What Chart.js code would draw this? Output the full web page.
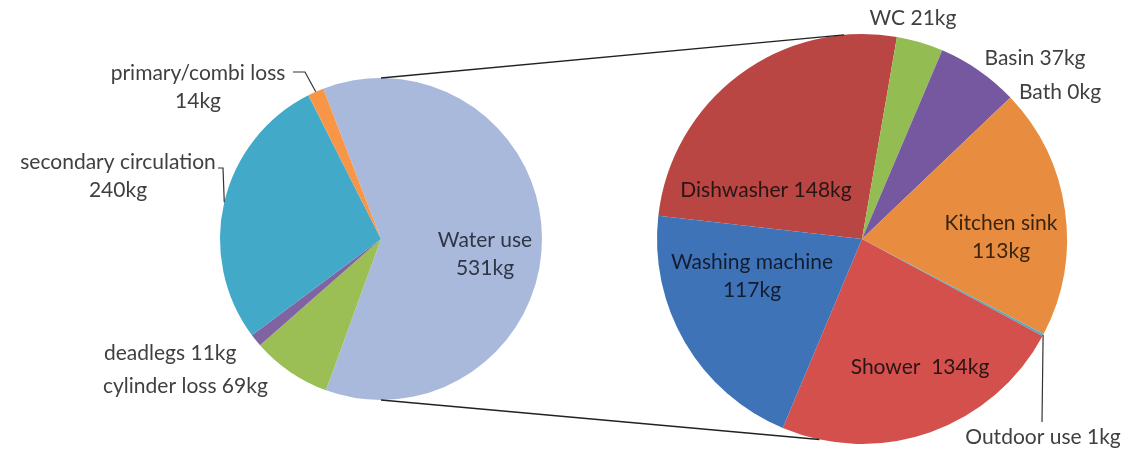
<!DOCTYPE html>
<html>
<head>
<meta charset="utf-8">
<script src="https://cdn.jsdelivr.net/npm/chart.js@4/dist/chart.umd.min.js"></script>
<style>
  html, body { margin: 0; padding: 0; background: #fff; }
  #wrap { position: relative; width: 1134px; height: 449px; }
  #wrap canvas { position: absolute; left: 0; top: 0; }
</style>
</head>
<body>
<div id="wrap">
  <canvas id="mainPie" width="1134" height="449"></canvas>
  <canvas id="usePie" width="1134" height="449"></canvas>
</div>
<script>
// Main pie - where the energy goes (kg)
const mainLabels = ['Water use', 'cylinder loss', 'deadlegs', 'secondary circulation', 'primary/combi loss'];
const mainValues = [531, 69, 11, 240, 14];
const mainColors = ['#A9B9DC', '#9BBF55', '#8064A2', '#42A9C8', '#F79646'];

// Second pie - water use split (kg)
const useLabels = ['Dishwasher', 'WC', 'Basin', 'Bath', 'Kitchen sink', 'Outdoor use', 'Shower', 'Washing machine'];
const useValues = [148, 21, 37, 0, 113, 1, 134, 117];
const useColors = ['#B94643', '#93BD52', '#7558A0', '#4BACC6', '#E88D3F', '#4BACC6', '#D4504C', '#3E73B8'];

const FONT = '21px Lato, "Liberation Sans", sans-serif';
const OUTSIDE = '#404040';
const LINE_H = 28;

// label placement relative to the pie centre
const mainLabelPos = {
    'Water use': { dx: 104, dy: 15, split: true, color: '#2e3545' },
    'cylinder loss': { dx: -278, dy: 147, align: 'left' },
    'deadlegs': { dx: -277, dy: 114, align: 'left' },
    'secondary circulation': { dx: -263, dy: -63, split: true, leader: [[-163, -71], [-158, -71]] },
    'primary/combi loss': { dx: -183, dy: -152, split: true, leader: [[-88, -167], [-76, -167]] }
};
const useLabelPos = {
    'Dishwasher': { dx: -96, dy: -49, color: '#2a1515' },
    'WC': { dx: 51, dy: -221 },
    'Basin': { dx: 173, dy: -181 },
    'Bath': { dx: 198, dy: -147 },
    'Kitchen sink': { dx: 139, dy: -2, split: true, color: '#3a2410' },
    'Outdoor use': { dx: 181, dy: 198, leader: [[180, 183]] },
    'Shower': { dx: 58, dy: 128, sep: '  ', color: '#2a1515' },
    'Washing machine': { dx: -110, dy: 37, split: true, color: '#141c30' }
};

function labelPlugin(id, layout) {
    return {
        id: id,
        afterDatasetsDraw(chart) {
            const ctx = chart.ctx;
            const meta = chart.getDatasetMeta(0);
            const labels = chart.data.labels;
            const values = chart.data.datasets[0].data;
            ctx.save();
            ctx.font = FONT;
            ctx.textBaseline = 'middle';
            meta.data.forEach(function(arc, i) {
                const cfg = layout[labels[i]];
                if (!cfg) return;
                const cx = arc.x, cy = arc.y;
                // leader line: from label to middle of the slice edge
                if (cfg.leader) {
                    const mid = (arc.startAngle + arc.endAngle) / 2;
                    ctx.strokeStyle = '#333';
                    ctx.lineWidth = 1.2;
                    ctx.beginPath();
                    cfg.leader.forEach(function(p, k) {
                        if (k === 0) ctx.moveTo(cx + p[0], cy + p[1]);
                        else ctx.lineTo(cx + p[0], cy + p[1]);
                    });
                    ctx.lineTo(cx + Math.cos(mid) * arc.outerRadius, cy + Math.sin(mid) * arc.outerRadius);
                    ctx.stroke();
                }
                const valueText = values[i] + 'kg';
                const lines = cfg.split ? [labels[i], valueText] : [labels[i] + (cfg.sep || ' ') + valueText];
                ctx.fillStyle = cfg.color || OUTSIDE;
                ctx.textAlign = cfg.align || 'center';
                const top = cy + cfg.dy - (lines.length - 1) * LINE_H / 2;
                lines.forEach(function(t, k) {
                    ctx.fillText(t, cx + cfg.dx, top + k * LINE_H);
                });
            });
            ctx.restore();
        }
    };
}

const mainChart = new Chart(document.getElementById('mainPie'), {
    type: 'pie',
    data: {
        labels: mainLabels,
        datasets: [{ data: mainValues, backgroundColor: mainColors, borderWidth: 0 }]
    },
    options: {
        responsive: false,
        animation: false,
        rotation: -21,
        layout: { padding: { left: 220, right: 592, top: 78, bottom: 49 } },
        plugins: { legend: { display: false }, tooltip: { enabled: false } }
    },
    plugins: [labelPlugin('mainLabels', mainLabelPos)]
});

// lines joining the two pies
const connectorPlugin = {
    id: 'connectors',
    afterDraw(chart) {
        const a = mainChart.getDatasetMeta(0).data[0];
        const b = chart.getDatasetMeta(0).data[0];
        const topAng = -5 * Math.PI / 180, botAng = 192 * Math.PI / 180;
        const ctx = chart.ctx;
        ctx.save();
        ctx.strokeStyle = '#222';
        ctx.lineWidth = 1.3;
        ctx.beginPath();
        ctx.moveTo(a.x, a.y - a.outerRadius);
        ctx.lineTo(b.x + Math.sin(topAng) * b.outerRadius, b.y - Math.cos(topAng) * b.outerRadius);
        ctx.moveTo(a.x, a.y + a.outerRadius);
        ctx.lineTo(b.x + Math.sin(botAng) * b.outerRadius, b.y - Math.cos(botAng) * b.outerRadius);
        ctx.stroke();
        ctx.restore();
    }
};

new Chart(document.getElementById('usePie'), {
    type: 'pie',
    data: {
        labels: useLabels,
        datasets: [{ data: useValues, backgroundColor: useColors, borderWidth: 0 }]
    },
    options: {
        responsive: false,
        animation: false,
        rotation: -83.5,
        layout: { padding: { left: 657, right: 67, top: 34, bottom: 5 } },
        plugins: { legend: { display: false }, tooltip: { enabled: false } }
    },
    plugins: [labelPlugin('useLabels', useLabelPos), connectorPlugin]
});
</script>
</body>
</html>
